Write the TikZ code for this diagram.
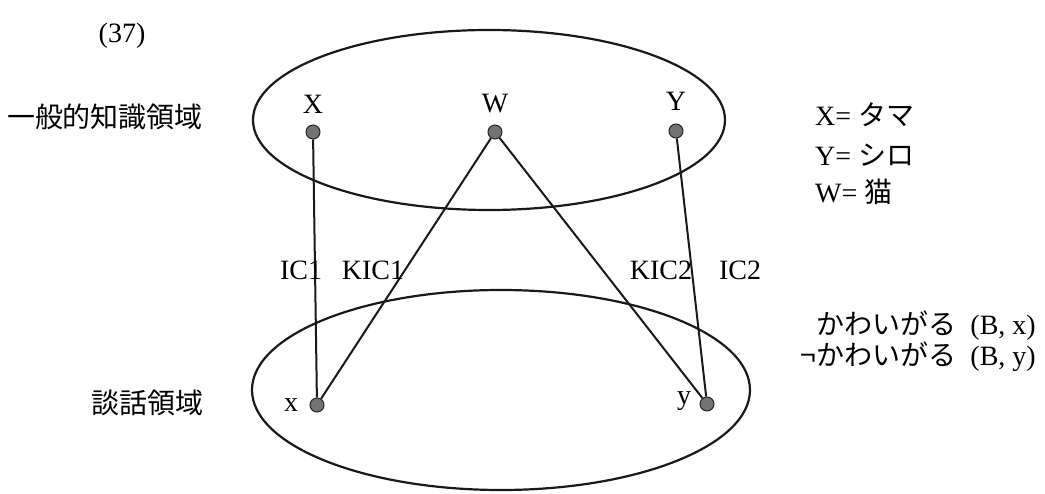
\documentclass[tikz,border=0pt]{standalone}
\usepackage{fontspec}
\setmainfont{Liberation Serif}
\newfontfamily\jp{Noto Sans CJK JP}
\begin{document}
\begin{tikzpicture}[x=1pt,y=-1pt,
  dot/.style={circle,draw=black!85,fill=black!55,line width=1pt,inner sep=0pt,minimum size=14pt},
  lbl/.style={inner sep=0pt,font=\fontsize{28}{32}\selectfont},
  link/.style={line width=2pt,black!90},
  dom/.style={line width=2.2pt,black!90}]
\useasboundingbox (0,0) rectangle (1045,494);
% domains
\draw[dom] (489,120) ellipse [x radius=236, y radius=90];
\draw[dom] (501,390) ellipse [x radius=249, y radius=100];
% dots
\node[dot] (dX) at (313,132) {};
\node[dot] (dW) at (495,132) {};
\node[dot] (dY) at (676,131) {};
\node[dot] (dx) at (317,405) {};
\node[dot] (dy) at (707,404) {};
% links
\draw[link] (dX) -- (dx);
\draw[link] (dW) -- (dx);
\draw[link] (dW) -- (dy);
\draw[link] (dY) -- (dy);
% point labels
\node[lbl] (lX) at (313,104) {X};
\node[lbl] (lW) at (495,104) {W};
\node[lbl] (lY) at (676,101) {Y};
\node[lbl] (lx) at (291,405) {x};
\node[lbl] (ly) at (684,401) {y};
% link labels
\node[lbl] (ic1) at (301,270) {IC1};
\node[lbl] (kic1) at (373,270) {KIC1};
\node[lbl] (kic2) at (661,270) {KIC2};
\node[lbl] (ic2) at (740,270) {IC2};
% left labels
\node[lbl] (num) at (122,36) {(37)};
\node[lbl] (gen) at (105,117) {\jp 一般的知識領域};
\node[lbl] (dis) at (147,403) {\jp 談話領域};
% right labels
\node[lbl,anchor=west] (eX) at (815,115) {X= \jp タマ};
\node[lbl,anchor=west] (eY) at (815,155) {Y= \jp シロ};
\node[lbl,anchor=west] (eW) at (815,192) {W= \jp 猫};
\node[lbl,anchor=east] (p1) at (1036,326) {{\jp かわいがる}\ \ (B, x)};
\node[lbl,anchor=east] (p2) at (1036,357) {{\jp ¬かわいがる}\ \ (B, y)};
\end{tikzpicture}
\end{document}
